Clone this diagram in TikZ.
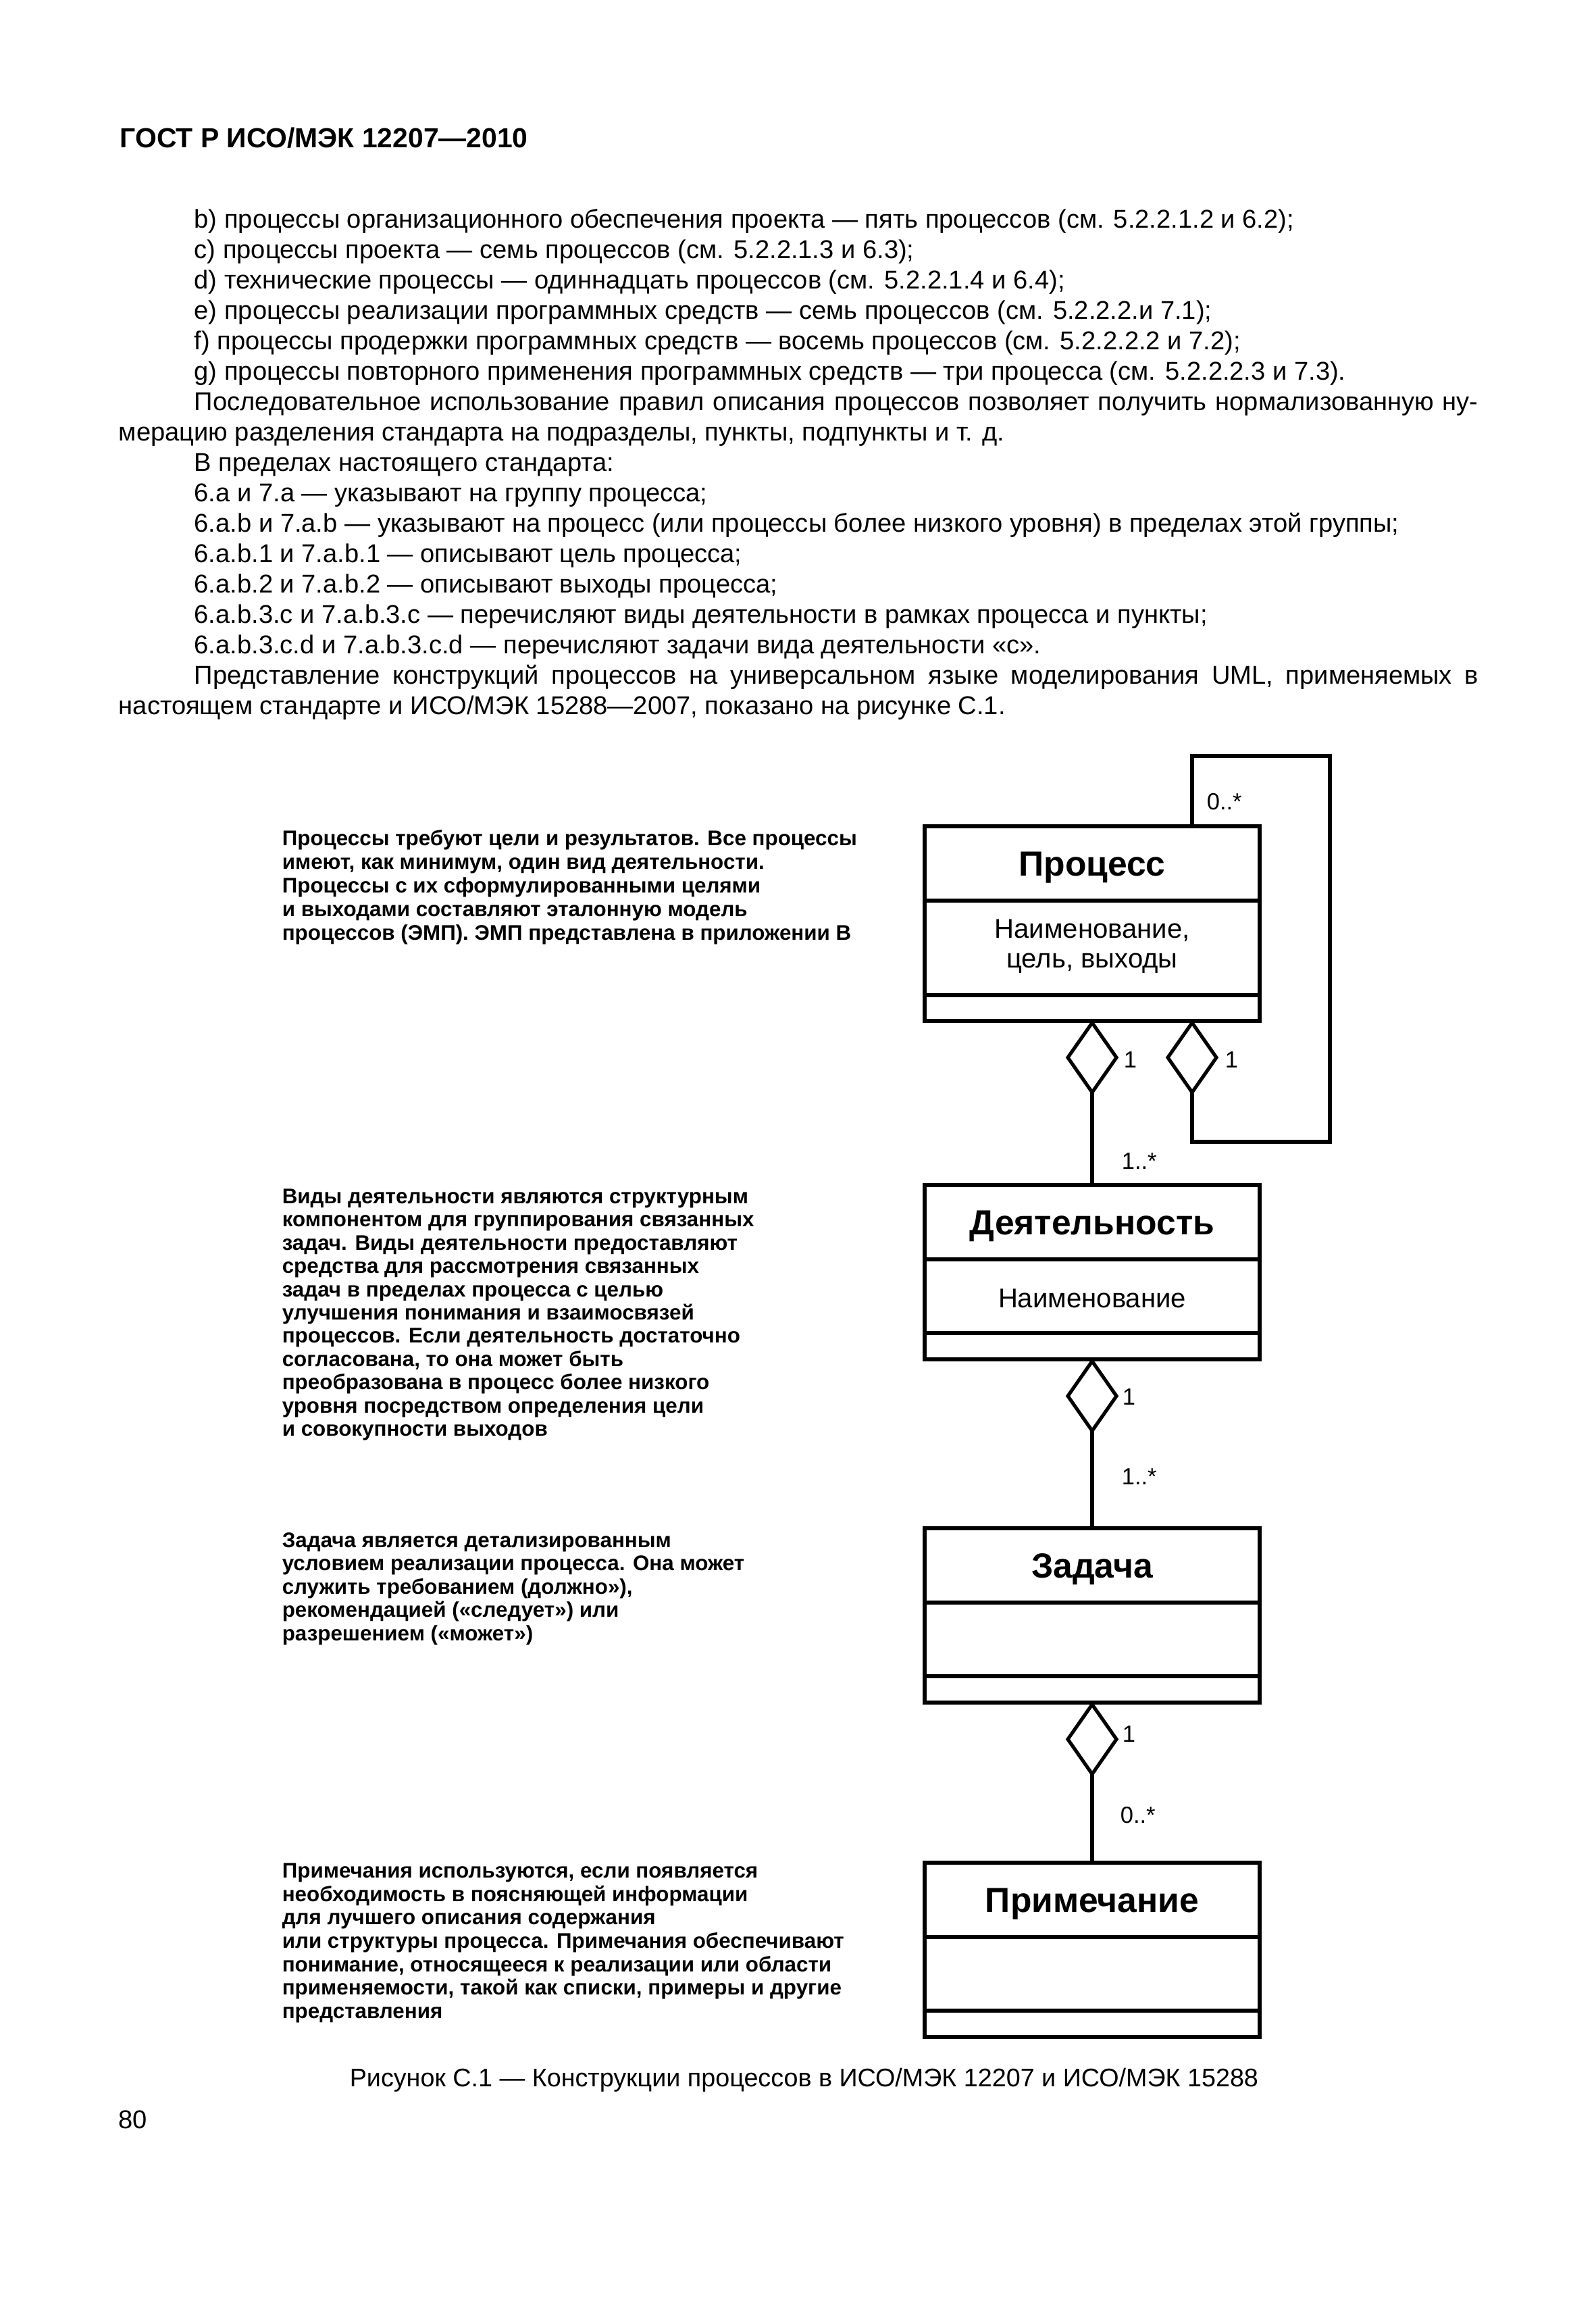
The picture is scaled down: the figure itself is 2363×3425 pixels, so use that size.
\documentclass[tikz,border=0pt]{standalone}
\usepackage{fontspec}
\setmainfont{Liberation Sans}
\usetikzlibrary{shapes.geometric}
\begin{document}
\begin{tikzpicture}[x=0.2519pt,y=-0.2519pt,
  body/.style={anchor=mid west, inner sep=0pt, font=\fontsize{9.6}{11}\selectfont},
  captxt/.style={anchor=mid west, inner sep=0pt, font=\fontsize{9.5}{11}\selectfont},
  head/.style={anchor=mid west, inner sep=0pt, font=\bfseries\fontsize{10.3}{12}\selectfont},
  anno/.style={anchor=mid west, inner sep=0pt, font=\bfseries\fontsize{7.9}{9}\selectfont},
  umlbox/.style={draw, line width=1.4pt, minimum width={496*0.2519pt}, inner sep=0pt},
  divline/.style={line width=1.4pt},
  agg/.style={diamond, draw, line width=1.3pt, minimum width={72*0.2519pt}, minimum height={103*0.2519pt}, inner sep=0pt, outer sep=0pt, anchor=north, fill=white},
  conn/.style={line width=1.3pt},
  ctitle/.style={anchor=base, inner sep=0pt, font=\bfseries\fontsize{13}{15}\selectfont},
  attr/.style={anchor=base, inner sep=0pt, font=\fontsize{10.1}{12}\selectfont},
  mult/.style={anchor=base west, inner sep=0pt, font=\fontsize{8.7}{10}\selectfont}]
\useasboundingbox (0,0) rectangle (2363,3425);
\fill[white] (0,0) rectangle (2363,3425);

% header
\node[head] (hdr) at (177,208) {ГОСТ Р ИСО/МЭК 12207—2010};

% body text
\node[body] (t0) at (287,327) {b) процессы организационного обеспечения проекта — пять процессов (см. 5.2.2.1.2 и 6.2);};
\node[body] (t1) at (287,372) {c) процессы проекта — семь процессов (см. 5.2.2.1.3 и 6.3);};
\node[body] (t2) at (287,417) {d) технические процессы — одиннадцать процессов (см. 5.2.2.1.4 и 6.4);};
\node[body] (t3) at (287,462) {e) процессы реализации программных средств — семь процессов (см. 5.2.2.2.и 7.1);};
\node[body] (t4) at (287,507) {f) процессы продержки программных средств — восемь процессов (см. 5.2.2.2.2 и 7.2);};
\node[body] (t5) at (287,552) {g) процессы повторного применения программных средств — три процесса (см. 5.2.2.2.3 и 7.3).};
\node[body] (t6) at (287,597) {\makebox[478.9pt][s]{Последовательное использование правил описания процессов позволяет получить нормализованную ну-}};
\node[body] (t7) at (175,642) {мерацию разделения стандарта на подразделы, пункты, подпункты и т. д.};
\node[body] (t8) at (287,687) {В пределах настоящего стандарта:};
\node[body] (t9) at (287,732) {6.a и 7.a — указывают на группу процесса;};
\node[body] (t10) at (287,777) {6.a.b и 7.a.b — указывают на процесс (или процессы более низкого уровня) в пределах этой группы;};
\node[body] (t11) at (287,822) {6.a.b.1 и 7.a.b.1 — описывают цель процесса;};
\node[body] (t12) at (287,867) {6.a.b.2 и 7.a.b.2 — описывают выходы процесса;};
\node[body] (t13) at (287,912) {6.a.b.3.c и 7.a.b.3.c — перечисляют виды деятельности в рамках процесса и пункты;};
\node[body] (t14) at (287,957) {6.a.b.3.c.d и 7.a.b.3.c.d — перечисляют задачи вида деятельности «c».};
\node[body] (t15) at (287,1002) {\makebox[478.9pt][s]{Представление конструкций процессов на универсальном языке моделирования UML, применяемых в}};
\node[body] (t16) at (175,1047) {настоящем стандарте и ИСО/МЭК 15288—2007, показано на рисунке С.1.};

% annotations
\node[anno] (a1a) at (417,1241) {Процессы требуют цели и результатов. Все процессы};
\node[anno] (a1b) at (417,1276) {имеют, как минимум, один вид деятельности.};
\node[anno] (a1c) at (417,1311) {Процессы с их сформулированными целями};
\node[anno] (a1d) at (417,1346) {и выходами составляют эталонную модель};
\node[anno] (a1e) at (417,1381) {процессов (ЭМП). ЭМП представлена в приложении В};

\node[anno] (a2a) at (417,1771) {Виды деятельности являются структурным};
\node[anno] (a2b) at (417,1805) {компонентом для группирования связанных};
\node[anno] (a2c) at (417,1840) {задач. Виды деятельности предоставляют};
\node[anno] (a2d) at (417,1874) {средства для рассмотрения связанных};
\node[anno] (a2e) at (417,1909) {задач в пределах процесса с целью};
\node[anno] (a2f) at (417,1943) {улучшения понимания и взаимосвязей};
\node[anno] (a2g) at (417,1977) {процессов. Если деятельность достаточно};
\node[anno] (a2h) at (417,2012) {согласована, то она может быть};
\node[anno] (a2i) at (417,2046) {преобразована в процесс более низкого};
\node[anno] (a2j) at (417,2081) {уровня посредством определения цели};
\node[anno] (a2k) at (417,2115) {и совокупности выходов};

\node[anno] (a3a) at (417,2280) {Задача является детализированным};
\node[anno] (a3b) at (417,2314) {условием реализации процесса. Она может};
\node[anno] (a3c) at (417,2349) {служить требованием (должно»),};
\node[anno] (a3d) at (417,2383) {рекомендацией («следует») или};
\node[anno] (a3e) at (417,2418) {разрешением («может»)};

\node[anno] (a4a) at (417,2769) {Примечания используются, если появляется};
\node[anno] (a4b) at (417,2804) {необходимость в поясняющей информации};
\node[anno] (a4c) at (417,2838) {для лучшего описания содержания};
\node[anno] (a4d) at (417,2873) {или структуры процесса. Примечания обеспечивают};
\node[anno] (a4e) at (417,2908) {понимание, относящееся к реализации или области};
\node[anno] (a4f) at (417,2942) {применяемости, такой как списки, примеры и другие};
\node[anno] (a4g) at (417,2977) {представления};

% UML boxes
\node[umlbox, minimum height={288*0.2519pt}] (proc) at (1617,1367) {};
\draw[divline] (1369,1333) -- (1865,1333);
\draw[divline] (1369,1473) -- (1865,1473);
\node[ctitle] (procT) at (1617,1296) {Процесс};
\node[attr] (procA1) at (1617,1388) {Наименование,};
\node[attr] (procA2) at (1617,1432) {цель, выходы};

\node[umlbox, minimum height={258*0.2519pt}] (act) at (1617,1883) {};
\draw[divline] (1369,1864) -- (1865,1864);
\draw[divline] (1369,1973) -- (1865,1973);
\node[ctitle] (actT) at (1617,1827) {Деятельность};
\node[attr] (actA) at (1617,1935) {Наименование};

\node[umlbox, minimum height={258*0.2519pt}] (task) at (1617,2391) {};
\draw[divline] (1369,2372) -- (1865,2372);
\draw[divline] (1369,2481) -- (1865,2481);
\node[ctitle] (taskT) at (1617,2335) {Задача};

\node[umlbox, minimum height={258*0.2519pt}] (note) at (1617,2886) {};
\draw[divline] (1369,2867) -- (1865,2867);
\draw[divline] (1369,2976) -- (1865,2976);
\node[ctitle] (noteT) at (1617,2830) {Примечание};

% loop coordinates
\coordinate (lpA) at (1765,1119);
\coordinate (lpB) at (1969,1119);
\coordinate (lpC) at (1969,1690);

% aggregation diamonds
\node[agg] (d1) at (proc.south) {};
\node[agg] (d2) at (proc.south -| lpA) {};
\node[agg] (d3) at (act.south) {};
\node[agg] (d4) at (task.south) {};

% connectors
\draw[conn] (d1.south) -- (act.north);
\draw[conn] (d3.south) -- (task.north);
\draw[conn] (d4.south) -- (note.north);
\draw[conn] (d2.south) -- (d2.south |- lpC) -- (lpC) -- (lpB) -- (lpA) -- (lpA |- proc.north);

% multiplicities
\node[mult] (m0) at (1786,1198) {0..*};
\node[mult] (m1) at (1663,1580) {1};
\node[mult] (m2) at (1813,1580) {1};
\node[mult] (m3) at (1660,1730) {1..*};
\node[mult] (m4) at (1661,2079) {1};
\node[mult] (m5) at (1660,2197) {1..*};
\node[mult] (m6) at (1661,2578) {1};
\node[mult] (m7) at (1658,2698) {0..*};

% caption and page number
\node[captxt] (cap) at (517,3078) {Рисунок С.1 — Конструкции процессов в ИСО/МЭК 12207 и ИСО/МЭК 15288};
\node[body] (pg) at (175,3140) {80};
\end{tikzpicture}
\end{document}
